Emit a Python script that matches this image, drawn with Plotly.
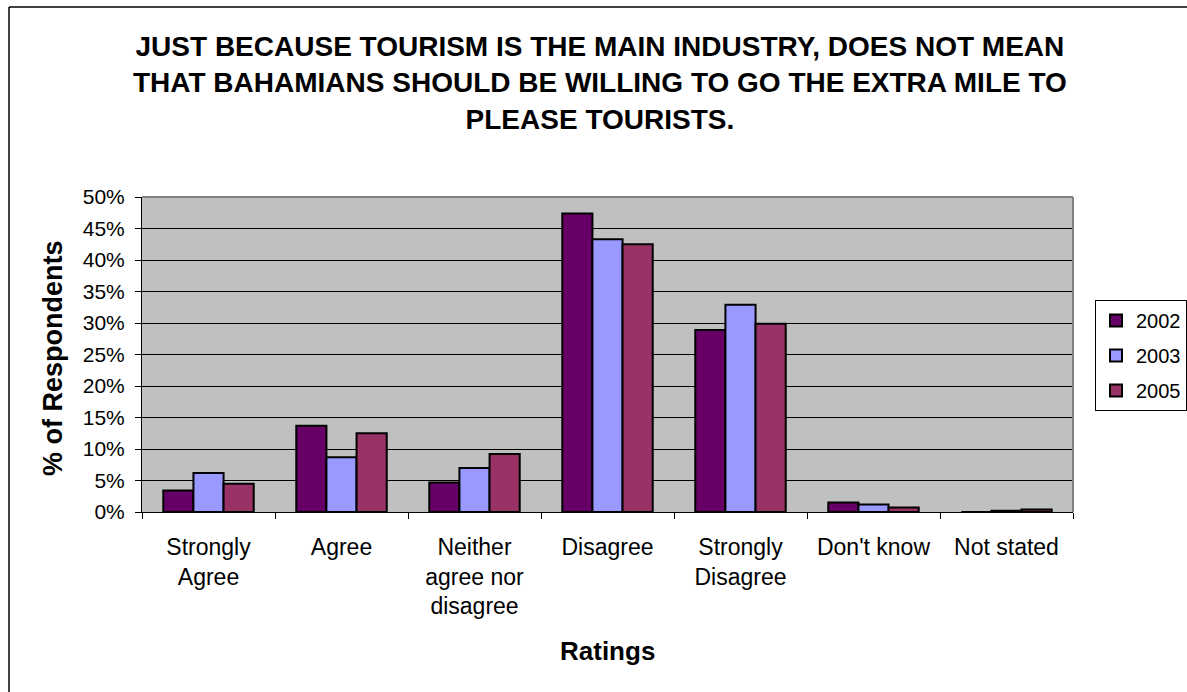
import plotly.graph_objects as go

# Survey response categories (tick labels) and the share of respondents per year
categories = ["Strongly<br>Agree", "Agree", "Neither<br>agree nor<br>disagree",
              "Disagree", "Strongly<br>Disagree", "Don't know", "Not stated"]
years = ["2002", "2003", "2005"]
pct_2002 = [0.034, 0.137, 0.047, 0.474, 0.289, 0.015, 0.000]
pct_2003 = [0.062, 0.087, 0.070, 0.433, 0.329, 0.012, 0.002]
pct_2005 = [0.045, 0.125, 0.092, 0.425, 0.299, 0.007, 0.004]
series = [pct_2002, pct_2003, pct_2005]
colors = ["#660066", "#9999FF", "#993366"]

title_text = ("JUST BECAUSE TOURISM IS THE MAIN INDUSTRY, DOES NOT MEAN<br>"
              "THAT BAHAMIANS SHOULD BE WILLING TO GO THE EXTRA MILE TO<br>"
              "PLEASE TOURISTS.")

W, H = 1187, 692
L, R, T, B = 142, 1073, 197, 512  # plot area in pixels


def px_x(p):
    return (p - L) / (R - L)


def px_y(p):
    return (B - p) / (B - T)


FONT = "Liberation Sans, Arial, sans-serif"

fig = go.Figure()
for name, vals, col in zip(years, series, colors):
    fig.add_trace(go.Bar(
        x=categories, y=vals, name=name, legendgroup=name,
        marker=dict(color=col, line=dict(color="black", width=2)),
    ))

fig.update_layout(
    width=W, height=H,
    margin=dict(l=L, r=W - R, t=T, b=H - B, pad=0, autoexpand=False),
    paper_bgcolor="white",
    plot_bgcolor="#C0C0C0",
    barmode="group",
    bargap=0.32,
    bargroupgap=0,
    font=dict(family=FONT, color="black"),
    showlegend=True,
    legend=dict(
        xref="container", yref="container",
        x=1095 / W, y=1 - 300 / H, xanchor="left", yanchor="top",
        bordercolor="black", borderwidth=1, bgcolor="white",
        font=dict(size=20, family=FONT),
        tracegroupgap=6, itemsizing="constant", itemwidth=30,
    ),
)

fig.update_xaxes(
    showline=True, linecolor="black", linewidth=1,
    ticks="outside", tickson="boundaries", ticklen=6, tickcolor="black",
    tickfont=dict(size=23, family=FONT),
    ticklabelstandoff=14,
    showgrid=False, automargin=False,
)
fig.update_yaxes(
    range=[0, 0.5], dtick=0.05, tickformat=".0%",
    showline=True, linecolor="black", linewidth=1,
    ticks="outside", ticklen=6, tickcolor="black",
    tickfont=dict(size=21, family=FONT),
    ticklabelstandoff=6,
    showgrid=True, gridcolor="black", gridwidth=1,
    zeroline=False, automargin=False,
)

# Chart title
fig.add_annotation(
    text="<b>" + title_text + "</b>", xref="paper", yref="paper",
    x=px_x(600), y=px_y(29), xanchor="center", yanchor="top",
    showarrow=False, align="center", font=dict(size=28, family=FONT),
)
# Axis titles
fig.add_annotation(
    text="<b>% of Respondents</b>", xref="paper", yref="paper",
    x=px_x(53), y=px_y(358), xanchor="center", yanchor="middle",
    textangle=-90, showarrow=False, font=dict(size=27, family=FONT),
)
fig.add_annotation(
    text="<b>Ratings</b>", xref="paper", yref="paper",
    x=px_x(607), y=px_y(651), xanchor="center", yanchor="middle",
    showarrow=False, font=dict(size=26, family=FONT),
)

# Plot-area frame on top and right, outer chart frame on left and top
fig.add_shape(type="line", xref="paper", yref="paper", x0=0, x1=1, y0=1, y1=1,
              line=dict(color="#808080", width=2), layer="above")
fig.add_shape(type="line", xref="paper", yref="paper", x0=1, x1=1, y0=0, y1=1,
              line=dict(color="#808080", width=2), layer="above")
fig.add_shape(type="line", xref="paper", yref="paper",
              x0=px_x(9), x1=px_x(9), y0=px_y(7), y1=px_y(700),
              line=dict(color="black", width=1.5))
fig.add_shape(type="line", xref="paper", yref="paper",
              x0=px_x(9), x1=px_x(1200), y0=px_y(7), y1=px_y(7),
              line=dict(color="black", width=1.5))

fig.write_html("out.html")
